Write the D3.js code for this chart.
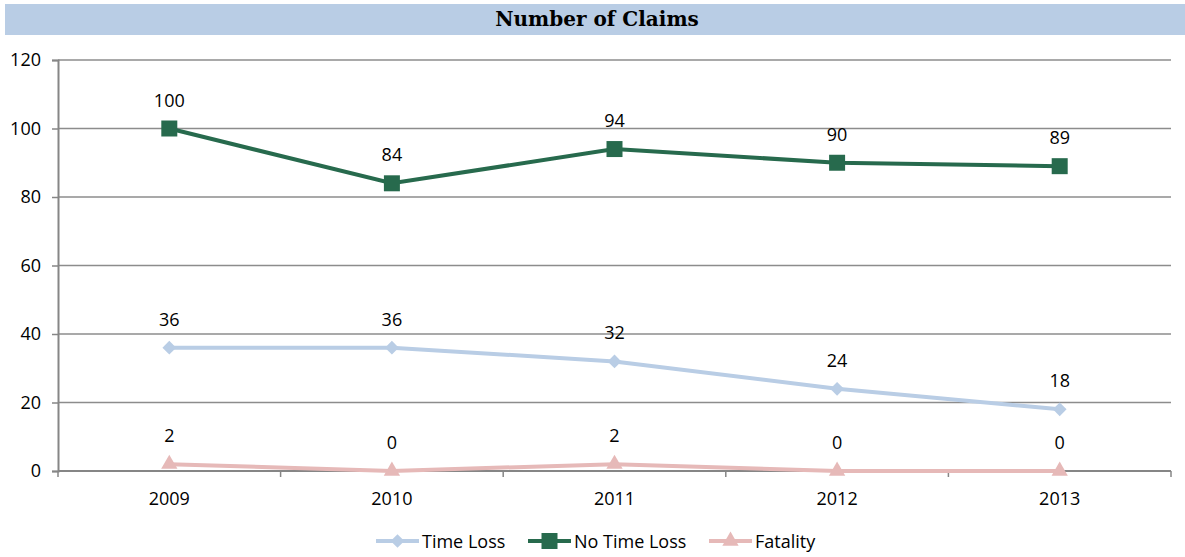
<!DOCTYPE html>
<html>
<head>
<meta charset="utf-8">
<script src="https://cdn.jsdelivr.net/npm/d3@7"></script>
<style>
  body { margin: 0; background: #fff; }
  text { font-family: "Open Sans", "Liberation Sans", sans-serif; }
</style>
</head>
<body>
<div id="chart"></div>
<script>
var years = ["2009", "2010", "2011", "2012", "2013"];
var timeLoss = [36, 36, 32, 24, 18];
var noTimeLoss = [100, 84, 94, 90, 89];
var fatality = [2, 0, 2, 0, 0];
var yTicks = [0, 20, 40, 60, 80, 100, 120];

var series = [
  { name: "Time Loss", values: timeLoss, color: "#b9cde5", marker: d3.symbolDiamond2, size: 120 },
  { name: "No Time Loss", values: noTimeLoss, color: "#276a4d", marker: d3.symbolSquare, size: 256 },
  { name: "Fatality", values: fatality, color: "#e6b9b8", marker: d3.symbolTriangle, size: 115 }
];

var W = 1185, H = 557,
  plotL = 58, plotR = 1171, plotT = 60, plotB = 471;

var svg = d3.select("#chart").append("svg")
  .attr("width", W)
  .attr("height", H);

// title bar
svg.append("rect")
  .attr("x", 5).attr("y", 4)
  .attr("width", W - 5).attr("height", 31)
  .attr("fill", "#b9cde5");
svg.append("text")
  .attr("x", 597).attr("y", 26)
  .attr("text-anchor", "middle")
  .style("font-family", "'DejaVu Serif', serif")
  .style("font-weight", "bold")
  .style("font-size", "20px")
  .text("Number of Claims");

var x = d3.scaleBand().domain(years).range([plotL, plotR]);
var y = d3.scaleLinear().domain([0, 120]).range([plotB, plotT]);

// gridlines
svg.append("g")
  .selectAll("line")
  .data(yTicks.filter(function(d){ return d > 0; }))
  .join("line")
  .attr("x1", plotL).attr("x2", plotR)
  .attr("y1", function(d){ return y(d); })
  .attr("y2", function(d){ return y(d); })
  .attr("stroke", "#8c8c8c")
  .attr("stroke-width", 1.3);

// y axis
var yAxis = svg.append("g")
  .attr("transform", "translate(" + plotL + ",0)")
  .call(d3.axisLeft(y).tickValues(yTicks).tickSize(6).tickPadding(11));
yAxis.select(".domain").attr("stroke", "#868686").attr("stroke-width", 2);
yAxis.selectAll(".tick line").attr("stroke", "#868686").attr("stroke-width", 1.5);
yAxis.selectAll("text")
  .style("font-size", "18px")
  .style("font-family", "'Open Sans', sans-serif")
  .attr("fill", "#000");

// x axis, ticks between categories
var bounds = years.map(function(d){ return x(d); }).concat([plotR]);
var xAxis = svg.append("g");
xAxis.append("line")
  .attr("x1", plotL).attr("x2", plotR)
  .attr("y1", plotB).attr("y2", plotB)
  .attr("stroke", "#868686").attr("stroke-width", 2);
xAxis.selectAll("line.tk")
  .data(bounds)
  .join("line")
  .attr("class", "tk")
  .attr("x1", function(d){ return d; }).attr("x2", function(d){ return d; })
  .attr("y1", plotB).attr("y2", plotB + 6)
  .attr("stroke", "#868686").attr("stroke-width", 1.5);
xAxis.selectAll("text")
  .data(years)
  .join("text")
  .attr("x", function(d){ return x(d) + x.bandwidth() / 2; })
  .attr("y", 505)
  .attr("text-anchor", "middle")
  .style("font-size", "18px")
  .text(function(d){ return d; });

var cx = function(i){ return x(years[i]) + x.bandwidth() / 2; };
var line = d3.line()
  .x(function(d, i){ return cx(i); })
  .y(function(d){ return y(d); });

series.forEach(function(s) {
  var g = svg.append("g");
  g.append("path")
    .attr("d", line(s.values))
    .attr("fill", "none")
    .attr("stroke", s.color)
    .attr("stroke-width", 4);
  g.selectAll("path.m")
    .data(s.values)
    .join("path")
    .attr("class", "m")
    .attr("transform", function(d, i){ return "translate(" + cx(i) + "," + y(d) + ")"; })
    .attr("d", d3.symbol().type(s.marker).size(s.size))
    .attr("fill", s.color);
  g.selectAll("text")
    .data(s.values)
    .join("text")
    .attr("x", function(d, i){ return cx(i); })
    .attr("y", function(d){ return y(d) - 22; })
    .attr("text-anchor", "middle")
    .style("font-size", "18px")
    .text(function(d){ return d; });
});

// legend
var legendX = [376, 528, 709];
var leg = svg.append("g");
series.forEach(function(s, i) {
  var lx = legendX[i], ly = 541;
  leg.append("line")
    .attr("x1", lx).attr("x2", lx + 43)
    .attr("y1", ly).attr("y2", ly)
    .attr("stroke", s.color).attr("stroke-width", 4);
  leg.append("path")
    .attr("transform", "translate(" + (lx + 21.5) + "," + ly + ")")
    .attr("d", d3.symbol().type(s.marker).size(s.size))
    .attr("fill", s.color);
  leg.append("text")
    .attr("x", lx + 46).attr("y", ly + 7)
    .style("font-size", "18px")
    .text(s.name);
});
</script>
</body>
</html>
